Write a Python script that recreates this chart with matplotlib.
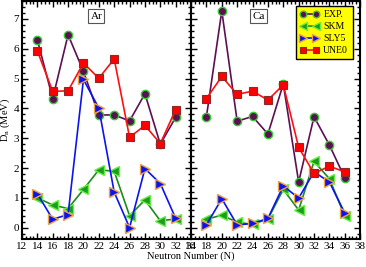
import numpy as np
import matplotlib
matplotlib.use("Agg")
import matplotlib.pyplot as plt
from matplotlib.ticker import MultipleLocator

plt.rcParams['font.family'] = ['Liberation Serif', 'DejaVu Serif']
plt.rcParams['mathtext.fontset'] = 'stix'

# Ar isotopes
n_ar = [14, 16, 18, 20, 22, 24, 26, 28, 30, 32]
exp_ar = [6.30, 4.33, 6.47, 5.24, 3.78, 3.78, 3.58, 4.49, 2.80, 3.70]
skm_ar = [1.00, 0.76, 0.64, 1.28, 1.94, 1.89, 0.40, 0.93, 0.23, 0.29]
sly5_ar = [1.14, 0.28, 0.44, 4.97, 4.01, 1.19, 0.00, 1.98, 1.48, 0.31]
une0_ar = [5.93, 4.57, 4.59, 5.52, 5.01, 5.66, 3.03, 3.43, 2.82, 3.96]

# Ca isotopes
n_ca = [18, 20, 22, 24, 26, 28, 30, 32, 34, 36]
exp_ca = [3.72, 7.27, 3.57, 3.73, 3.14, 4.82, 1.53, 3.72, 2.77, 1.67]
skm_ca = [0.28, 0.42, 0.18, 0.11, 0.29, 1.28, 0.59, 2.22, 1.64, 0.39]
sly5_ca = [0.09, 0.97, 0.09, 0.14, 0.31, 1.40, 0.99, 1.87, 1.53, 0.49]
une0_ca = [4.33, 5.07, 4.47, 4.58, 4.28, 4.79, 2.69, 1.82, 2.06, 1.87]

labels = ["EXP.", "SKM", "SLY5", "UNE0"]

styles = [
    dict(color="#5c0f52", marker="o", mfc="#5c0f52", mec="#33cc33", ms=6, mew=1.0, lw=1.2),
    dict(color="#1c8c1c", marker="<", mfc="#1c9c1c", mec="#66ee44", ms=7, mew=1.0, lw=1.2),
    dict(color="#0a14f0", marker=">", mfc="#0a14f0", mec="#f0a040", ms=7, mew=1.0, lw=1.2),
    dict(color="#ff1010", marker="s", mfc="#ff0000", mec="#8a2a2a", ms=5.5, mew=0.8, lw=1.2),
]

fig = plt.figure(figsize=(3.66, 2.67), dpi=100)
ax1 = fig.add_axes([0.060, 0.105, 0.462, 0.891])
ax2 = fig.add_axes([0.522, 0.105, 0.462, 0.891])


def draw(ax, n, series, name, xlim, xpos):
    for y, st, lab in zip(series, styles, labels):
        ax.plot(n, y, label=lab, **st)
    ax.set_xlim(*xlim)
    ax.set_ylim(-0.38, 7.6)
    ax.xaxis.set_major_locator(MultipleLocator(2))
    ax.xaxis.set_minor_locator(MultipleLocator(0.5))
    ax.yaxis.set_major_locator(MultipleLocator(1))
    ax.yaxis.set_minor_locator(MultipleLocator(0.2))
    ax.tick_params(which="both", direction="in", top=True, right=True,
                   labelsize=8, width=1.0, pad=2)
    ax.tick_params(which="major", length=4)
    ax.tick_params(which="minor", length=2)
    for sp in ax.spines.values():
        sp.set_linewidth(1.5)
    ax.text(xpos, 0.937, name, transform=ax.transAxes, ha="center", va="center",
            fontsize=8, bbox=dict(boxstyle="square,pad=0.2", fc="white",
                                  ec="#555555", lw=0.8))


draw(ax1, n_ar, [exp_ar, skm_ar, sly5_ar, une0_ar], "Ar", (12, 34), 0.44)
draw(ax2, n_ca, [exp_ca, skm_ca, sly5_ca, une0_ca], "Ca", (16, 38), 0.40)
ax2.tick_params(labelleft=False)

ax1.set_ylabel(r"D$_{\rm n}$ (MeV)", fontsize=7.5, labelpad=1)
fig.text(0.52, 0.042, "Neutron Number (N)", ha="center", va="center", fontsize=7.5)

leg = ax2.legend(loc="upper right", bbox_to_anchor=(0.955, 0.98), numpoints=2,
                 fontsize=7, frameon=True, fancybox=False, facecolor="#ffff00",
                 edgecolor="black", framealpha=1, handlelength=2.0,
                 labelspacing=0.3, borderpad=0.45, handletextpad=0.4,
                 markerscale=0.8, borderaxespad=0)
leg.get_frame().set_linewidth(1.0)

fig.savefig("out.png", dpi=100)
